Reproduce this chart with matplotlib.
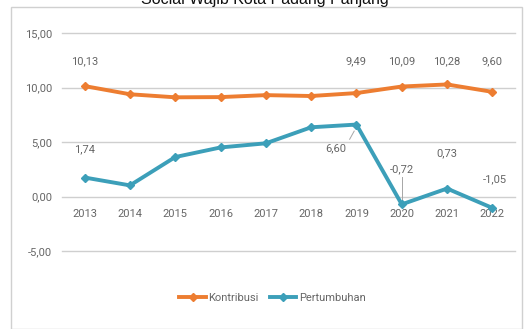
import matplotlib
matplotlib.use("Agg")
import matplotlib.pyplot as plt
from matplotlib.patches import Rectangle
from matplotlib.lines import Line2D

years = ["2013", "2014", "2015", "2016", "2017", "2018", "2019", "2020", "2021", "2022"]
kontribusi = [10.13, 9.38, 9.10, 9.12, 9.30, 9.22, 9.49, 10.09, 10.28, 9.60]
pertumbuhan = [1.74, 1.02, 3.62, 4.50, 4.88, 6.35, 6.60, -0.72, 0.73, -1.05]
y_ticks = [-5, 0, 5, 10, 15]

# indices of labelled points per series
kontribusi_labelled = [0, 6, 7, 8, 9]
pertumbuhan_labelled = [0, 6, 7, 8, 9]

ORANGE = "#ED7D31"
TEAL = "#3C9FB9"
GRID = "#CFCFCF"
TXT = "#666666"
NARROW = ["Liberation Sans Narrow", "Roboto", "DejaVu Sans"]
FS = 8

def fmt(v):
    return f"{v:.2f}".replace(".", ",")

fig = plt.figure(figsize=(5.29, 3.29), dpi=100)
W, H = 529, 329

# chart frame
fig.patches.append(Rectangle((11 / W, 0), 511 / W, 1 - 7 / H, transform=fig.transFigure,
                             fill=False, edgecolor="#D0D0D0", linewidth=1.0))

fig.text(0.5, 1 - 4 / H, "Social Wajib Kota Padang Panjang", ha="center", va="baseline",
         fontsize=11.5, family=["Liberation Sans", "DejaVu Sans"], color="#111111")

ax = fig.add_axes([62 / W, (H - 251) / H, 453 / W, (251 - 33) / H])
x = list(range(len(years)))
ax.set_xlim(-0.5, len(years) - 0.5)
ax.set_ylim(-5, 15)
ax.set_yticks(y_ticks)
ax.set_yticklabels([fmt(v) for v in y_ticks], family=NARROW, fontsize=FS, color=TXT)
ax.set_xticks([])
for s in ax.spines.values():
    s.set_visible(False)
ax.tick_params(axis="y", length=0, pad=7)
for v in y_ticks:
    ax.axhline(v, color=GRID, linewidth=1.0, zorder=1, clip_on=False)

# category labels sit just under the zero line
for i, yr in enumerate(years):
    ax.text(i, -1.6, yr, ha="center", va="center", family=NARROW, fontsize=FS, color=TXT)

ax.plot(x, kontribusi, color=ORANGE, linewidth=2.8, marker="D", markersize=4.5,
        markeredgecolor=ORANGE, solid_capstyle="round", zorder=3)
ax.plot(x, pertumbuhan, color=TEAL, linewidth=2.8, marker="D", markersize=4.5,
        markeredgecolor=TEAL, solid_capstyle="round", zorder=3)

lab = dict(ha="center", va="center", family=NARROW, fontsize=FS, color=TXT)
for i in kontribusi_labelled:
    ax.text(i, 12.4, fmt(kontribusi[i]), **lab)

p_offsets = {0: (0, 2.6), 6: (-0.45, -2.2), 7: (0, 3.2), 8: (0, 3.2), 9: (0.05, 2.6)}
for i in pertumbuhan_labelled:
    dx, dy = p_offsets[i]
    ax.text(i + dx, pertumbuhan[i] + dy, fmt(pertumbuhan[i]), **lab)

# leader lines for labels placed away from their points
ax.plot([5.85, 5.95], [5.25, 6.0], color="#A6A6A6", linewidth=0.7, zorder=2)
ax.plot([7, 7], [1.8, -0.3], color="#A6A6A6", linewidth=0.7, zorder=2)

handles = [Line2D([], [], color=ORANGE, linewidth=2.8, marker="D", markersize=4.5),
           Line2D([], [], color=TEAL, linewidth=2.8, marker="D", markersize=4.5)]
fig.legend(handles, ["Kontribusi", "Pertumbuhan"], loc="center",
           bbox_to_anchor=(0.515, 1 - 298 / H), ncol=2, frameon=False,
           prop={"family": NARROW, "size": FS}, labelcolor=TXT,
           handlelength=2.4, handletextpad=0.2, columnspacing=1.0)

fig.savefig("out.png", dpi=100, facecolor="white")
